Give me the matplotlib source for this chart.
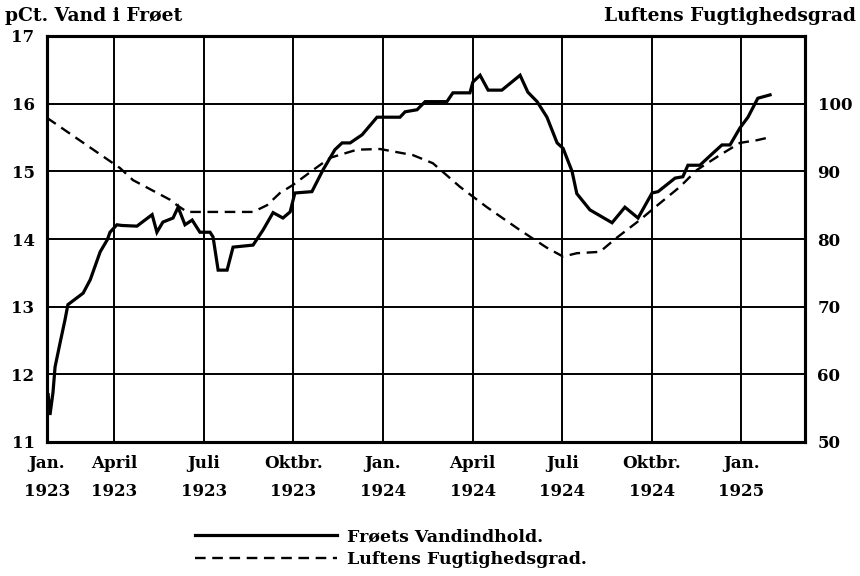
import matplotlib
matplotlib.use("Agg")
import matplotlib.pyplot as plt

# Months counted from 1 Jan 1923 (0 = Jan 1923, 12 = Jan 1924, 24 = Jan 1925)
seed_months = [
    0.79, 0.85, 0.95, 1.02, 1.19, 1.35, 1.45, 1.75, 1.96, 2.20, 2.53, 2.77,
    2.86, 3.09, 3.26, 3.76, 4.27, 4.43, 4.63, 4.97, 5.14, 5.37, 5.61, 5.87,
    6.21, 6.31, 6.48, 6.78, 6.98, 7.65, 7.98, 8.32, 8.65, 8.89, 9.05, 9.62,
    9.99, 10.39, 10.63, 10.90, 11.30, 11.80, 12.57, 12.74, 13.14, 13.41,
    14.14, 14.34, 14.91, 15.01, 15.25, 15.52, 15.98, 16.59, 16.85, 17.16,
    17.49, 17.83, 18.03, 18.33, 18.49, 18.93, 19.67, 20.10, 20.54, 21.01,
    21.21, 21.78, 22.04, 22.21, 22.61, 23.05, 23.35, 23.62, 23.95, 24.22,
    24.55, 24.96,
]
seed_water = [
    11.70, 11.40, 11.73, 12.11, 12.47, 12.80, 13.03, 13.13, 13.20, 13.40,
    13.81, 13.99, 14.10, 14.21, 14.20, 14.19, 14.36, 14.10, 14.25, 14.31,
    14.47, 14.21, 14.28, 14.10, 14.10, 14.03, 13.54, 13.54, 13.88, 13.91,
    14.13, 14.39, 14.31, 14.40, 14.68, 14.70, 15.02, 15.32, 15.42, 15.42,
    15.54, 15.80, 15.80, 15.88, 15.91, 16.03, 16.03, 16.16, 16.16, 16.32,
    16.42, 16.20, 16.20, 16.42, 16.17, 16.03, 15.80, 15.42, 15.34, 15.00,
    14.67, 14.43, 14.24, 14.47, 14.31, 14.68, 14.70, 14.90, 14.92, 15.09,
    15.09, 15.27, 15.39, 15.39, 15.64, 15.80, 16.08, 16.13,
]

air_months = [
    0.75, 0.85, 3.19, 3.63, 4.87, 5.10, 5.44, 6.11, 7.65, 8.12, 8.55, 8.99,
    9.66, 10.23, 11.13, 11.90, 13.00, 13.67, 14.58, 15.48, 16.59, 17.49,
    18.03, 18.49, 19.26, 19.83, 20.60, 21.11, 21.94, 22.51, 23.28, 23.95,
    24.52, 25.02,
]
air_humidity = [
    97.9, 97.6, 90.5, 88.7, 85.8, 85.0, 84.0, 84.0, 84.0, 85.0, 86.8, 88.0,
    90.2, 92.0, 93.2, 93.3, 92.4, 91.2, 87.7, 84.7, 81.3, 78.7, 77.4, 77.9,
    78.1, 80.2, 82.8, 84.7, 87.7, 90.2, 92.4, 94.2, 94.6, 95.1,
]

tick_months = [0.75, 3, 6, 9, 12, 15, 18, 21, 24]
tick_labels = [
    "Jan.\n1923", "April\n1923", "Juli\n1923", "Oktbr.\n1923", "Jan.\n1924",
    "April\n1924", "Juli\n1924", "Oktbr.\n1924", "Jan.\n1925",
]
left_ticks = [11, 12, 13, 14, 15, 16, 17]
right_ticks = [50, 60, 70, 80, 90, 100]

plt.rcParams["font.family"] = ["DejaVu Serif"]
plt.rcParams["font.weight"] = "bold"

fig = plt.figure(figsize=(8.6, 5.76), dpi=100)
ax = fig.add_axes([47 / 860, 1 - 442 / 576, (805 - 47) / 860, (442 - 36) / 576])
ax2 = ax.twinx()

ax.plot(seed_months, seed_water, color="black", lw=2.3,
        solid_joinstyle="miter", label="Frøets Vandindhold.", zorder=3)
ax2.plot(air_months, air_humidity, color="black", lw=1.7,
         linestyle=(0, (4.5, 2.8)), label="Luftens Fugtighedsgrad.", zorder=3)

ax.set_xlim(0.75, 26.13)
ax.set_ylim(11, 17)
ax2.set_ylim(50, 110)

ax.set_xticks(tick_months)
ax.set_xticklabels(tick_labels, fontsize=12, fontweight="bold", linespacing=1.9)
ax.set_yticks(left_ticks)
ax.set_yticklabels([str(v) for v in left_ticks], fontsize=12, fontweight="bold")
ax2.set_yticks(right_ticks)
ax2.set_yticklabels([str(v) for v in right_ticks], fontsize=12, fontweight="bold")

ax.tick_params(axis="both", length=0, pad=9)
ax2.tick_params(axis="y", length=0, pad=9)

ax.grid(True, color="black", lw=1.4)
for a in (ax, ax2):
    for s in a.spines.values():
        s.set_linewidth(2.2)

fig.text(5 / 860, 1 - 16 / 576, "pCt. Vand i Frøet", fontsize=13.5,
         fontweight="bold", va="center", ha="left")
fig.text(856 / 860, 1 - 16 / 576, "Luftens Fugtighedsgrad", fontsize=13.5,
         fontweight="bold", va="center", ha="right")

h1, l1 = ax.get_legend_handles_labels()
h2, l2 = ax2.get_legend_handles_labels()
fig.legend(h1 + h2, l1 + l2, loc="center left",
           bbox_to_anchor=(186 / 860, 1 - 548 / 576), frameon=False,
           handlelength=8.2, handletextpad=0.6, labelspacing=0.3,
           borderpad=0, prop={"size": 12.5, "weight": "bold"})

fig.savefig("out.png", dpi=100)
